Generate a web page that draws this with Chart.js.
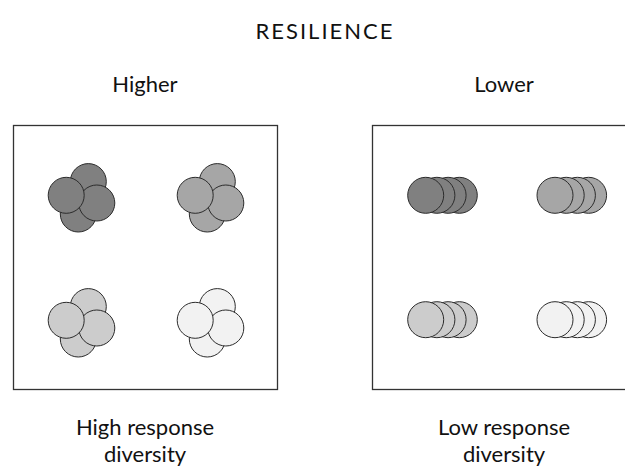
<!DOCTYPE html>
<html>
<head>
<meta charset="utf-8">
<script src="https://cdn.jsdelivr.net/npm/chart.js@4.4.1/dist/chart.umd.min.js"></script>
<style>
  html, body { margin: 0; padding: 0; background: #fff; overflow: hidden; }
  body { width: 625px; height: 467px; position: relative; font-family: Lato, sans-serif; color: #111; }
  .txt { position: absolute; text-align: center; font-size: 22px; line-height: 27px; white-space: nowrap; }
  canvas { position: absolute; }
</style>
</head>
<body>
<div class="txt" id="main-title" style="left:225px; width:200px; top:17px; letter-spacing:2px;">RESILIENCE</div>
<div class="txt" style="left:45px; width:200px; top:70px;">Higher</div>
<div class="txt" style="left:404px; width:200px; top:70px;">Lower</div>
<div class="txt" style="left:45px; width:200px; top:413px;">High response<br>diversity</div>
<div class="txt" style="left:404px; width:200px; top:413px;">Low response<br>diversity</div>
<canvas id="chart-high" width="268" height="268" style="left:11px; top:123px;"></canvas>
<canvas id="chart-low" width="268" height="268" style="left:370px; top:123px;"></canvas>
<script>
// four species groups, shaded from dark to light
const groupNames = ['Group 1', 'Group 2', 'Group 3', 'Group 4'];
const groupColors = ['#808080', '#a6a6a6', '#cccccc', '#f2f2f2'];

// high response diversity: members spread in all directions (back to front)
const highX = [
    [75.3, 65.3, 83.8, 53.2],
    [204.3, 194.3, 212.8, 182.2],
    [75.3, 65.3, 83.8, 53.2],
    [204.3, 194.3, 212.8, 182.2]
];
const highY = [
    [56.6, 89.0, 78.0, 70.3],
    [56.6, 89.0, 78.0, 70.3],
    [181.6, 214.0, 203.0, 195.3],
    [181.6, 214.0, 203.0, 195.3]
];

// low response diversity: members lined up, nearly the same response
const lowX = [
    [87.3, 76.1, 64.9, 53.7],
    [216.6, 205.4, 194.2, 183.0],
    [87.3, 76.1, 64.9, 53.7],
    [216.6, 205.4, 194.2, 183.0]
];
const lowY = [
    [70.3, 70.3, 70.3, 70.3],
    [70.3, 70.3, 70.3, 70.3],
    [194.7, 194.7, 194.7, 194.7],
    [194.7, 194.7, 194.7, 194.7]
];

const frame = {
    id: 'frame',
    afterDraw(chart) {
        const a = chart.chartArea;
        const ctx = chart.ctx;
        ctx.save();
        ctx.strokeStyle = '#333';
        ctx.lineWidth = 1.3;
        ctx.strokeRect(a.left + 0.5, a.top + 0.5, a.right - a.left, a.bottom - a.top);
        ctx.restore();
    }
};

function makePanel(id, xs, ys) {
    const datasets = groupNames.map((name, g) => ({
        label: name,
        data: xs[g].map((x, i) => ({ x: x, y: ys[g][i] })),
        backgroundColor: groupColors[g],
        borderColor: '#2b2b2b',
        borderWidth: 1,
        pointRadius: 18,
        pointHoverRadius: 18
    }));
    new Chart(document.getElementById(id).getContext('2d'), {
        type: 'scatter',
        data: { datasets },
        options: {
            responsive: false,
            animation: false,
            events: [],
            layout: { padding: 2, autoPadding: false },
            plugins: { legend: { display: false }, tooltip: { enabled: false } },
            scales: {
                x: { display: false, min: 0, max: 264 },
                y: { display: false, min: 0, max: 264, reverse: true }
            }
        },
        plugins: [frame]
    });
}

makePanel('chart-high', highX, highY);
makePanel('chart-low', lowX, lowY);
</script>
</body>
</html>
